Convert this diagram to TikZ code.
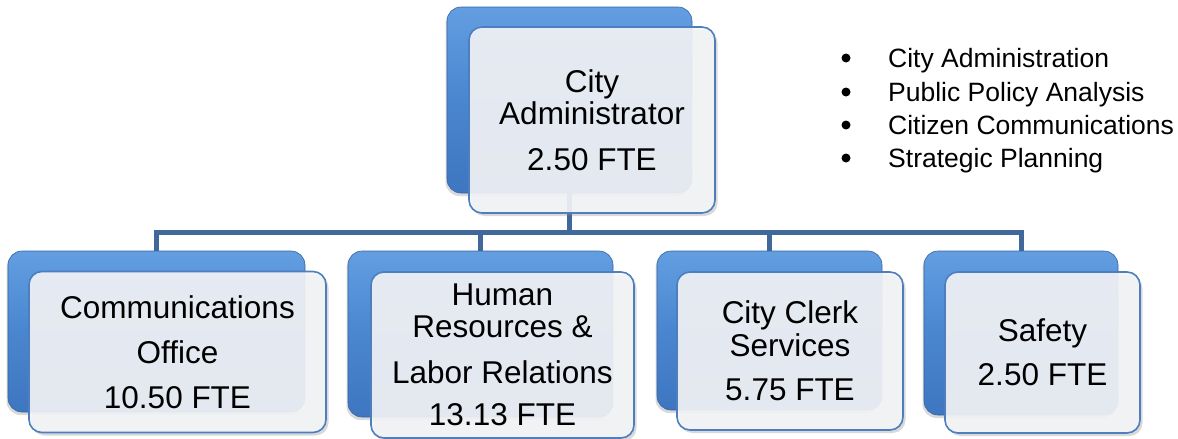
\documentclass[tikz,border=0pt]{standalone}
\usepackage{fontspec}
\setmainfont{Liberation Sans}
\usetikzlibrary{shadows}
\definecolor{connblue}{RGB}{65,104,154}
\definecolor{boxtop}{RGB}{98,158,224}
\definecolor{boxmid}{RGB}{74,134,207}
\definecolor{boxbot}{RGB}{62,118,192}
\definecolor{frontfill}{RGB}{244,245,248}
\definecolor{frontedge}{RGB}{79,126,190}
\tikzset{
  backbox/.style={rectangle, rounded corners=14pt, outer sep=0pt, inner sep=0pt,
    top color=boxtop, bottom color=boxbot, middle color=boxmid,
    draw=boxbot!85!black, line width=0.6pt,
    drop shadow={shadow xshift=-1.5pt, shadow yshift=-3pt, opacity=0.3}},
  frontbox/.style={rectangle, rounded corners=13pt, outer sep=0pt, inner sep=0pt,
    fill=frontfill, fill opacity=0.9, text opacity=1, draw=frontedge, line width=1.6pt,
    align=center, font=\fontsize{31.5}{32.5}\selectfont,
    drop shadow={shadow xshift=2.5pt, shadow yshift=-3pt, opacity=0.3}},
  conn/.style={draw=connblue, line width=5pt},
  bullettxt/.style={anchor=base west, inner sep=0pt, font=\fontsize{26.5}{30}\selectfont},
  bulletdot/.style={circle, fill=black, inner sep=0pt, minimum size=9pt},
}
\begin{document}
\begin{tikzpicture}[x=1pt,y=-1pt]
\useasboundingbox (0,0) rectangle (1178,439);
% back boxes
\node[backbox, minimum width=245pt, minimum height=186pt] (t0) at (569.5,100) {};
\node[backbox, minimum width=297pt, minimum height=161pt] (b1) at (156.5,331.5) {};
\node[backbox, minimum width=265pt, minimum height=166pt] (b2) at (480.5,334) {};
\node[backbox, minimum width=225pt, minimum height=159pt] (b3) at (769.5,330.5) {};
\node[backbox, minimum width=194pt, minimum height=164pt] (b4) at (1021,333) {};
% connectors
\coordinate (bus) at (0,232);
\draw[conn] (t0.south) -- (t0.south |- bus);
\draw[conn] (b1.north) -- (b1.north |- bus) -- (b4.north |- bus) -- (b4.north);
\draw[conn] (b2.north) -- (b2.north |- bus);
\draw[conn] (b3.north) -- (b3.north |- bus);
% front boxes
\node[frontbox, minimum width=246pt, minimum height=186pt] (f0) at (592,120)
  {City\\Administrator\\[13pt]2.50 FTE};
\node[frontbox, minimum width=297pt, minimum height=161pt] (f1) at (177.5,352)
  {Communications\\[13pt]Office\\[12pt]10.50 FTE};
\node[frontbox, minimum width=263pt, minimum height=166pt] (f2) at (502.5,355)
  {Human\\Resources \&\\[13pt]Labor Relations\\[10pt]13.13 FTE};
\node[frontbox, minimum width=226pt, minimum height=158pt] (f3) at (790,351)
  {City Clerk\\Services\\[12pt]5.75 FTE};
\node[frontbox, minimum width=195pt, minimum height=161pt] (f4) at (1042.5,352.5)
  {Safety\\[12pt]2.50 FTE};
% bullet list
\node[bulletdot] (d1) at (846,58) {};
\node[bulletdot] (d2) at (846,92) {};
\node[bulletdot] (d3) at (846,125) {};
\node[bulletdot] (d4) at (846,158) {};
\node[bullettxt] (l1) at (888,67) {City Administration};
\node[bullettxt] (l2) at (888,101) {Public Policy Analysis};
\node[bullettxt] (l3) at (888,134) {Citizen Communications};
\node[bullettxt] (l4) at (888,167) {Strategic Planning};
\end{tikzpicture}
\end{document}
